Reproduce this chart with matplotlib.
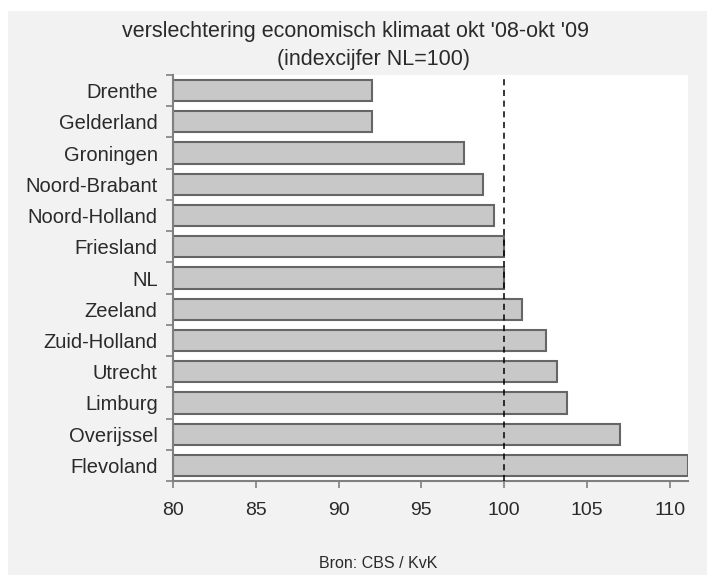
import numpy as np
import matplotlib
matplotlib.use('Agg')
import matplotlib.pyplot as plt

provinces = ['Drenthe', 'Gelderland', 'Groningen', 'Noord-Brabant', 'Noord-Holland',
             'Friesland', 'NL', 'Zeeland', 'Zuid-Holland', 'Utrecht', 'Limburg',
             'Overijssel', 'Flevoland']
index_values = [92.0, 92.0, 97.55, 98.7, 99.4, 100.0, 100.0, 101.05, 102.5, 103.2,
                103.8, 107.0, 111.1]
x_ticks = [80, 85, 90, 95, 100, 105, 110]

plt.rcParams['font.family'] = ['Liberation Sans', 'DejaVu Sans']
text_color = '#2a2a2a'

fig = plt.figure(figsize=(7.07, 5.75), dpi=100, facecolor='#f2f2f2')
# white strip at top/left like the original export
fig.patches.append(plt.Rectangle((0, 1 - 11 / 575), 1, 11 / 575, transform=fig.transFigure,
                                 facecolor='white', edgecolor='none', zorder=-1))
fig.patches.append(plt.Rectangle((0, 0), 8 / 707, 1, transform=fig.transFigure,
                                 facecolor='white', edgecolor='none', zorder=-1))

ax = fig.add_axes([173 / 707, 1 - 481 / 575, (688 - 173) / 707, (481 - 75) / 575])
ax.set_facecolor('white')

y = np.arange(len(provinces))
ax.barh(y, np.array(index_values) - 80, left=80, height=0.68,
        color='#c8c8c8', edgecolor='#666666', linewidth=1.5, zorder=2)
ax.axvline(100, color='black', linestyle=(0, (4, 3)), linewidth=1.1, zorder=3)

ax.set_xlim(80, 111.1)
ax.set_ylim(len(provinces) - 0.5, -0.5)

ax.set_xticks(x_ticks)
ax.set_xticklabels([str(t) for t in x_ticks], fontsize=14, color=text_color)
ax.set_yticks(y)
ax.set_yticklabels(provinces, fontsize=14.5, color=text_color)
ax.tick_params(axis='y', which='major', length=0, pad=11)
ax.set_yticks(np.arange(len(provinces) + 1) - 0.5, minor=True)
ax.tick_params(axis='y', which='minor', length=5, color='#808080', width=1.2)
ax.tick_params(axis='x', length=5, color='#808080', width=1.2, pad=10)

for side in ['top', 'right']:
    ax.spines[side].set_visible(False)
for side in ['left', 'bottom']:
    ax.spines[side].set_color('#808080')
    ax.spines[side].set_linewidth(1.5)

fig.text(356 / 707, 1 - 31 / 575, "verslechtering economisch klimaat okt '08-okt '09",
         ha='center', va='center', fontsize=15.5, color=text_color)
fig.text(374 / 707, 1 - 59 / 575, "(indexcijfer NL=100)",
         ha='center', va='center', fontsize=15.5, color=text_color)
fig.text(378 / 707, 1 - 563 / 575, "Bron: CBS / KvK",
         ha='center', va='center', fontsize=11.5, color=text_color)

fig.savefig('out.png', dpi=100, facecolor=fig.get_facecolor())
